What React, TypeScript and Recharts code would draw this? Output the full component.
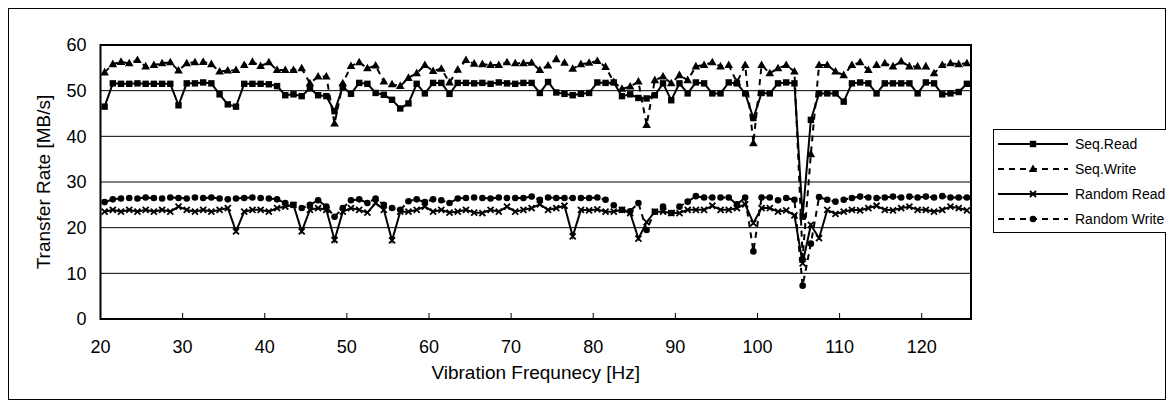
import React from 'react';
import { LineChart, Line, XAxis, YAxis, CartesianGrid, ReferenceArea } from 'recharts';

// vibration frequency of each measurement [Hz]
const freqHz = [
  20.5, 21.5, 22.5, 23.5, 24.5, 25.5, 26.5, 27.5, 28.5, 29.5,
  30.5, 31.5, 32.5, 33.5, 34.5, 35.5, 36.5, 37.5, 38.5, 39.5,
  40.5, 41.5, 42.5, 43.5, 44.5, 45.5, 46.5, 47.5, 48.5, 49.5,
  50.5, 51.5, 52.5, 53.5, 54.5, 55.5, 56.5, 57.5, 58.5, 59.5,
  60.5, 61.5, 62.5, 63.5, 64.5, 65.5, 66.5, 67.5, 68.5, 69.5,
  70.5, 71.5, 72.5, 73.5, 74.5, 75.5, 76.5, 77.5, 78.5, 79.5,
  80.5, 81.5, 82.5, 83.5, 84.5, 85.5, 86.5, 87.5, 88.5, 89.5,
  90.5, 91.5, 92.5, 93.5, 94.5, 95.5, 96.5, 97.5, 98.5, 99.5,
  100.5, 101.5, 102.5, 103.5, 104.5, 105.5, 106.5, 107.5, 108.5, 109.5,
  110.5, 111.5, 112.5, 113.5, 114.5, 115.5, 116.5, 117.5, 118.5, 119.5,
  120.5, 121.5, 122.5, 123.5, 124.5, 125.5,
];

const seqRead = [
  46.5, 51.6, 51.5, 51.5, 51.6, 51.5, 51.5, 51.5, 51.5, 46.8,
  51.6, 51.6, 51.8, 51.6, 49.2, 47.0, 46.5, 51.5, 51.5, 51.5,
  51.4, 51.0, 49.0, 49.2, 48.8, 50.5, 49.0, 48.8, 45.5, 50.8,
  49.3, 51.7, 51.5, 49.5, 49.1, 48.0, 46.1, 47.2, 51.5, 49.4,
  51.7, 51.7, 49.3, 51.7, 51.7, 51.6, 51.7, 51.5, 51.8, 51.6,
  51.5, 51.7, 51.7, 49.5, 51.9, 49.6, 49.3, 49.0, 49.3, 49.5,
  51.8, 51.7, 51.8, 48.8, 49.2, 48.4, 48.3, 49.0, 51.6, 47.9,
  51.6, 49.4, 51.8, 51.6, 49.4, 49.4, 51.8, 51.6, 49.4, 44.0,
  49.5, 49.4, 51.6, 51.8, 51.6, 22.4, 43.6, 49.4, 49.4, 49.4,
  47.6, 51.6, 51.8, 51.6, 49.4, 51.6, 51.6, 51.6, 51.6, 49.4,
  51.8, 51.6, 49.2, 49.4, 49.7, 51.5,
];

const seqWrite = [
  54.0, 55.8, 56.3, 56.0, 56.7, 55.3, 55.6, 56.0, 56.2, 54.4,
  56.0, 56.2, 56.3, 55.8, 54.2, 54.4, 54.5, 55.6, 56.3, 55.4,
  56.2, 54.5, 54.5, 54.5, 54.9, 51.6, 53.1, 53.1, 42.8, 51.6,
  55.4, 56.2, 54.9, 55.5, 52.0, 51.4, 51.0, 52.8, 53.8, 55.6,
  54.3, 54.8, 51.8, 54.6, 56.7, 55.9, 55.8, 55.6, 55.6, 56.2,
  56.0, 56.0, 56.1, 54.5, 55.5, 56.9, 56.1, 54.8, 55.8, 56.1,
  56.5, 55.2, 51.9, 50.4, 50.9, 52.0, 42.5, 52.3, 53.1, 51.6,
  53.4, 52.3, 55.3, 55.6, 56.2, 55.3, 55.6, 51.8, 55.6, 38.5,
  55.6, 53.8, 54.9, 55.6, 54.2, 13.5, 36.1, 55.6, 55.6, 54.2,
  53.4, 55.6, 56.2, 54.5, 55.6, 56.0, 55.3, 56.4, 55.3, 55.3,
  55.3, 53.8, 55.6, 56.0, 55.8, 56.0,
];

const randomRead = [
  23.5, 23.9, 23.5, 23.9, 23.5, 23.9, 23.5, 23.9, 23.5, 24.6,
  23.9, 23.5, 23.9, 23.5, 23.9, 24.3, 19.2, 23.5, 23.9, 23.9,
  23.5, 24.3, 24.6, 25.0, 19.2, 23.9, 24.3, 23.9, 17.3, 23.5,
  24.3, 23.9, 23.3, 25.4, 23.9, 17.2, 23.5, 23.5, 23.9, 24.6,
  23.5, 23.9, 23.3, 23.5, 23.9, 23.3, 23.2, 23.9, 23.5, 24.6,
  23.5, 23.9, 24.3, 25.1, 23.9, 24.3, 24.8, 18.1, 23.9, 23.8,
  24.0, 23.5, 23.5, 23.9, 23.2, 17.6, 21.2, 23.5, 23.5, 23.2,
  23.2, 23.9, 23.9, 23.9, 24.8, 23.9, 23.9, 24.3, 25.1, 21.0,
  24.3, 24.3, 23.5, 23.8, 22.7, 12.2, 20.6, 17.7, 23.9, 23.0,
  23.5, 23.9, 23.8, 24.3, 24.8, 23.9, 23.8, 24.3, 24.6, 23.9,
  23.9, 23.5, 23.9, 24.6, 24.3, 23.8,
];

const randomWrite = [
  25.6, 26.2, 26.4, 26.5, 26.4, 26.6, 26.5, 26.4, 26.6, 26.5,
  26.4, 26.6, 26.5, 26.6, 26.4, 26.2, 26.4, 26.5, 26.6, 26.5,
  26.4, 26.2, 25.4, 25.0, 24.3, 25.0, 26.0, 24.6, 22.4, 24.3,
  26.0, 26.2, 25.4, 26.4, 25.0, 24.3, 23.9, 25.8, 26.2, 25.6,
  26.2, 26.0, 25.4, 26.4, 26.5, 26.6, 26.5, 26.4, 26.6, 26.5,
  26.5, 26.5, 26.8, 26.1, 26.6, 26.5, 26.5, 26.5, 26.5, 26.5,
  26.6, 26.1, 24.9, 23.9, 23.6, 25.4, 19.5, 23.5, 24.6, 23.2,
  24.6, 25.7, 26.9, 26.6, 26.6, 26.6, 26.6, 25.1, 26.6, 14.8,
  26.6, 26.6, 26.0, 26.5, 26.1, 7.3, 16.5, 26.7, 26.1, 25.7,
  26.1, 26.5, 26.8, 26.6, 26.5, 26.6, 26.8, 26.6, 26.8, 26.6,
  26.8, 26.6, 26.9, 26.6, 26.6, 26.6,
];

const xTicks = [20, 30, 40, 50, 60, 70, 80, 90, 100, 110, 120];
const yTicks = [0, 10, 20, 30, 40, 50, 60];

const chartData = freqHz.map((hz, i) => ({
  hz,
  seqRead: seqRead[i],
  seqWrite: seqWrite[i],
  randomRead: randomRead[i],
  randomWrite: randomWrite[i],
}));

const FONT = '"Liberation Sans", Arial, sans-serif';
const DASH = '6 5';

const series = [
  { key: 'seqRead', name: 'Seq.Read', marker: 'square', dash: undefined },
  { key: 'seqWrite', name: 'Seq.Write', marker: 'triangle', dash: DASH },
  { key: 'randomRead', name: 'Random Read', marker: 'cross', dash: undefined },
  { key: 'randomWrite', name: 'Random Write', marker: 'circle', dash: DASH },
];

function markerShape(kind: string, cx: number, cy: number, key?: string) {
  if (cx == null || cy == null) return <g key={key} />;
  switch (kind) {
    case 'square':
      return <rect key={key} x={cx - 3.2} y={cy - 3.2} width={6.4} height={6.4} fill="#000" />;
    case 'triangle':
      return <path key={key} d={`M${cx},${cy - 4.6}L${cx + 4.3},${cy + 3}L${cx - 4.3},${cy + 3}Z`} fill="#000" />;
    case 'cross':
      return (
        <path key={key} d={`M${cx - 3},${cy - 3}L${cx + 3},${cy + 3}M${cx + 3},${cy - 3}L${cx - 3},${cy + 3}`}
          stroke="#000" strokeWidth={1.8} fill="none" />
      );
    default:
      return <circle key={key} cx={cx} cy={cy} r={3.3} fill="#000" />;
  }
}

const XTick = (props: any) => {
  const { x, y, payload } = props;
  return (
    <g>
      {/* inside tick mark, pointing up into the plot */}
      <line x1={x} x2={x} y1={y - 21} y2={y - 27} stroke="#000" strokeWidth={1} />
      <text x={x} y={y} dy="0.71em" textAnchor="middle" fontSize={18} fontFamily={FONT} fill="#000">
        {payload.value}
      </text>
    </g>
  );
};

const LegendBox = () => (
  <div style={{
    position: 'absolute', left: 984, top: 120, border: '1px solid #000', background: '#fff',
    padding: '1px 6px 1px 4px', fontFamily: FONT, fontSize: 14, color: '#000',
  }}>
    {series.map((s) => (
      <div key={s.key} style={{ display: 'flex', alignItems: 'center', height: 25, whiteSpace: 'nowrap' }}>
        <svg width={70} height={12} style={{ display: 'block' }}>
          <line x1={0} x2={70} y1={6} y2={6} stroke="#000" strokeWidth={2} strokeDasharray={s.dash} />
          {markerShape(s.marker, 35, 6)}
        </svg>
        <span style={{ marginLeft: 7 }}>{s.name}</span>
      </div>
    ))}
  </div>
);

export default function App() {
  return (
    <div style={{ position: 'relative', width: 1156, height: 390, border: '1px solid #000', background: '#fff' }}>
      <LineChart width={1156} height={390} data={chartData} margin={{ top: 36, right: 194, left: 0, bottom: 0 }}>
        <CartesianGrid vertical={false} stroke="#000" strokeWidth={1} />
        <XAxis
          dataKey="hz"
          type="number"
          domain={[20, 126]}
          ticks={xTicks}
          interval={0}
          height={80}
          axisLine={false}
          tickLine={false}
          tickSize={0}
          tickMargin={21}
          tick={<XTick />}
          label={{ value: 'Vibration Frequnecy [Hz]', position: 'insideBottom', offset: 20, fill: '#000', fontSize: 19, fontFamily: FONT }}
        />
        <YAxis
          type="number"
          domain={[0, 60]}
          ticks={yTicks}
          interval={0}
          width={91.5}
          axisLine={false}
          tickLine={false}
          tickSize={0}
          tickMargin={14}
          tick={{ fill: '#000', fontSize: 18, fontFamily: FONT }}
          label={{ value: 'Transfer Rate [MB/s]', angle: -90, position: 'insideLeft', offset: 34, fill: '#000', fontSize: 19, fontFamily: FONT, style: { textAnchor: 'middle' } }}
        />
        <ReferenceArea x1={20} x2={126} y1={0} y2={60} fill="none" stroke="#000" strokeWidth={2} ifOverflow="visible" />
        {series.map((s) => (
          <Line
            key={s.key}
            type="linear"
            dataKey={s.key}
            name={s.name}
            stroke="#000"
            strokeWidth={2}
            strokeDasharray={s.dash}
            dot={(p: any) => markerShape(s.marker, p.cx, p.cy, `${s.key}-${p.index}`)}
            activeDot={false}
            isAnimationActive={false}
          />
        ))}
      </LineChart>
      <LegendBox />
    </div>
  );
}
